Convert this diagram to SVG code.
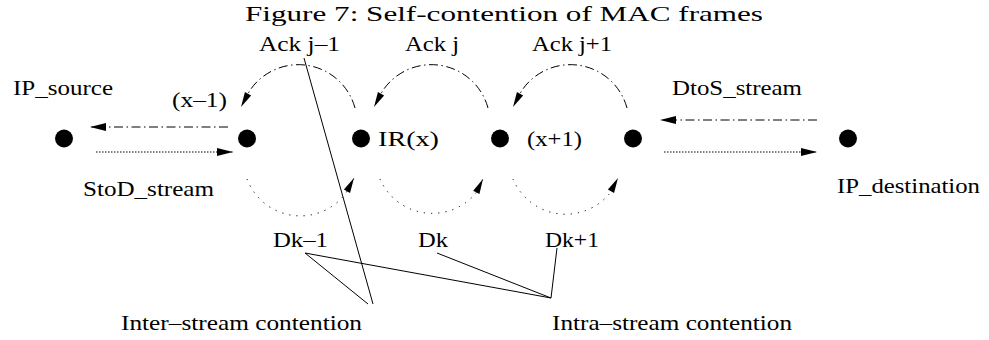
<svg xmlns="http://www.w3.org/2000/svg" width="989" height="340" viewBox="0 0 989 340">
<style>
text{font-family:"Liberation Serif","Times New Roman",serif;font-size:22px;fill:#000}
.title{font-size:22px}
.node{fill:#000}
.dd{fill:none;stroke:#000;stroke-width:1;stroke-dasharray:9,3.5,1.5,3.5}
.dt{fill:none;stroke:#000;stroke-width:1;stroke-dasharray:1.5,1.5}
.arcd{fill:none;stroke:#000;stroke-width:1;stroke-dasharray:1.2,6}
.ln{fill:none;stroke:#000;stroke-width:1}
</style>
<defs>
<marker id="ah" markerUnits="userSpaceOnUse" viewBox="-17 -5 18 10" markerWidth="18" markerHeight="10" refX="0" refY="0" orient="auto">
<path d="M0,0 L-16,-4 L-16,4 z" fill="#000"/>
</marker>
<marker id="ah2" markerUnits="userSpaceOnUse" viewBox="-17 -5 18 10" markerWidth="18" markerHeight="10" refX="0" refY="0" orient="auto">
<path d="M0,0 L-15,-3.5 L-15,3.5 z" fill="#000"/>
</marker>
</defs>
<text class="title" x="245" y="21" textLength="518" lengthAdjust="spacingAndGlyphs">Figure 7: Self-contention of MAC frames</text>
<g id="n1"><circle class="node" cx="64" cy="138.5" r="9"/></g>
<g id="n2"><circle class="node" cx="247" cy="138.5" r="9"/></g>
<g id="n3"><circle class="node" cx="361" cy="138.5" r="9"/></g>
<g id="n4"><circle class="node" cx="500" cy="138.5" r="9"/></g>
<g id="n5"><circle class="node" cx="633" cy="138.5" r="9"/></g>
<g id="n6"><circle class="node" cx="848" cy="138.5" r="9"/></g>
<g id="labels">
<text x="13" y="95" textLength="100" lengthAdjust="spacingAndGlyphs">IP_source</text>
<text x="172" y="107" textLength="55" lengthAdjust="spacingAndGlyphs">(x–1)</text>
<text x="259" y="51" textLength="81" lengthAdjust="spacingAndGlyphs">Ack j–1</text>
<text x="405" y="51" textLength="54" lengthAdjust="spacingAndGlyphs">Ack j</text>
<text x="532" y="51" textLength="80" lengthAdjust="spacingAndGlyphs">Ack j+1</text>
<text x="672" y="95" textLength="130" lengthAdjust="spacingAndGlyphs">DtoS_stream</text>
<text x="378" y="146" textLength="61" lengthAdjust="spacingAndGlyphs">IR(x)</text>
<text x="527" y="146" textLength="55" lengthAdjust="spacingAndGlyphs">(x+1)</text>
<text x="83" y="196" textLength="131" lengthAdjust="spacingAndGlyphs">StoD_stream</text>
<text x="837" y="193" textLength="143" lengthAdjust="spacingAndGlyphs">IP_destination</text>
<text x="273" y="247" textLength="55" lengthAdjust="spacingAndGlyphs">Dk–1</text>
<text x="418" y="247" textLength="30" lengthAdjust="spacingAndGlyphs">Dk</text>
<text x="545" y="247" textLength="54" lengthAdjust="spacingAndGlyphs">Dk+1</text>
<text x="121" y="330" textLength="241" lengthAdjust="spacingAndGlyphs">Inter–stream contention</text>
<text x="552" y="330" textLength="240" lengthAdjust="spacingAndGlyphs">Intra–stream contention</text>
</g>
<g id="connectors">
<path class="dd" d="M228,127 L90,127" marker-end="url(#ah)"/>
<path class="dt" d="M96,152 L233,152" marker-end="url(#ah)"/>
<path class="dd" d="M817,120 L660,120" marker-end="url(#ah)"/>
<path class="dt" d="M664,152 L817,152" marker-end="url(#ah)"/>
<path class="dd" d="M355,108 A58.6,58.6 0 0 0 249.5,91 L241,107" marker-end="url(#ah2)"/>
<path class="dd" d="M488,108 A58.6,58.6 0 0 0 382.5,91 L374,107" marker-end="url(#ah2)"/>
<path class="dd" d="M627,108 A58.6,58.6 0 0 0 521.5,91 L513,107" marker-end="url(#ah2)"/>
<path class="arcd" d="M247,179 A57,57 0 0 0 346,193 L354,178" marker-end="url(#ah2)"/>
<path class="arcd" d="M380,179 A57,57 0 0 0 476,193 L483,179" marker-end="url(#ah2)"/>
<path class="arcd" d="M513,179 A57,57 0 0 0 610,193 L618,178" marker-end="url(#ah2)"/>
<path class="ln" d="M304,58 L373,304"/>
<path class="ln" d="M305,253 L368,304"/>
<path class="ln" d="M305,253 L551,298"/>
<path class="ln" d="M437,253 L551,298"/>
<path class="ln" d="M557,248 L551,298"/>
</g>
</svg>
